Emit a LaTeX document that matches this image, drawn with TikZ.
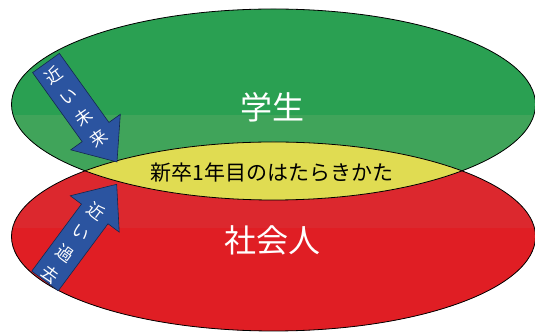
\documentclass[tikz,border=0pt]{standalone}
\usepackage{fontspec}
\usepackage{tikz}
\usetikzlibrary{positioning}
\newfontfamily\jpfont{Noto Sans CJK JP}
\definecolor{studentgreen}{RGB}{42,160,82}
\definecolor{studentgreenlow}{RGB}{64,164,90}
\definecolor{workerred}{RGB}{220,40,46}
\definecolor{workerredlow}{RGB}{224,30,36}
\definecolor{lensyellow}{RGB}{224,220,82}
\definecolor{arrowblue}{RGB}{43,84,160}
\definecolor{arrowline}{RGB}{20,40,80}
\tikzstyle{outline} = [draw=black, line width=0.8pt]
\tikzstyle{blockarrow} = [draw=arrowline, fill=arrowblue, line width=0.6pt]
\tikzstyle{bigtext} = [text=white, font=\jpfont\fontsize{32}{32}\selectfont]
\tikzstyle{lenstext} = [text=black, font=\jpfont\fontsize{21}{21}\selectfont]
\tikzstyle{arrowtext} = [
    text=white, align=center, inner sep=0pt, transform shape,
    font=\jpfont\fontsize{17}{26}\selectfont]
\def\studentellipse{(273.5,229.5) ellipse [x radius=262, y radius=95.5]}
\def\workerellipse{(273.5,97.5) ellipse [x radius=262, y radius=94.5]}

\begin{document}
\begin{tikzpicture}[x=1pt, y=1pt]
\useasboundingbox (0,0) rectangle (535,334);

% student and worker
\fill [studentgreen] \studentellipse;
\begin{scope}
    \clip \studentellipse;
    \fill [studentgreenlow] (0,0) rectangle (535,219);
\end{scope}
\fill [workerred] \workerellipse;
\begin{scope}
    \clip \workerellipse;
    \fill [workerredlow] (0,0) rectangle (535,106);
\end{scope}

% overlap
\begin{scope}
    \clip \studentellipse;
    \fill [lensyellow] \workerellipse;
\end{scope}
\draw [outline] \studentellipse;
\draw [outline] \workerellipse;

\node (student) [bigtext] at (272,226.5) {学生};
\node (worker) [bigtext] at (272,94) {社会人};
\node (first-year) [lenstext] at (272,161) {新卒1年目のはたらきかた};

% near future
\begin{scope}[shift={(46,271)}, rotate=-54.35]
    \draw [blockarrow] (0,-16.5) -- (85,-16.5) -- (85,-30.5) -- (121.8,0)
        -- (85,30.5) -- (85,16.5) -- (0,16.5) -- cycle;
    \node (future) [arrowtext, rotate=90] at (53,-1) {近\\い\\未\\来};
\end{scope}

% near past
\begin{scope}[shift={(45,53)}, rotate=53.45]
    \draw [blockarrow] (0,-16.5) -- (83.5,-16.5) -- (83.5,-30.5) -- (120.4,0)
        -- (83.5,30.5) -- (83.5,16.5) -- (0,16.5) -- cycle;
    \node (past) [arrowtext, rotate=-90] at (47,0) {近\\い\\過\\去};
\end{scope}
\end{tikzpicture}
\end{document}
